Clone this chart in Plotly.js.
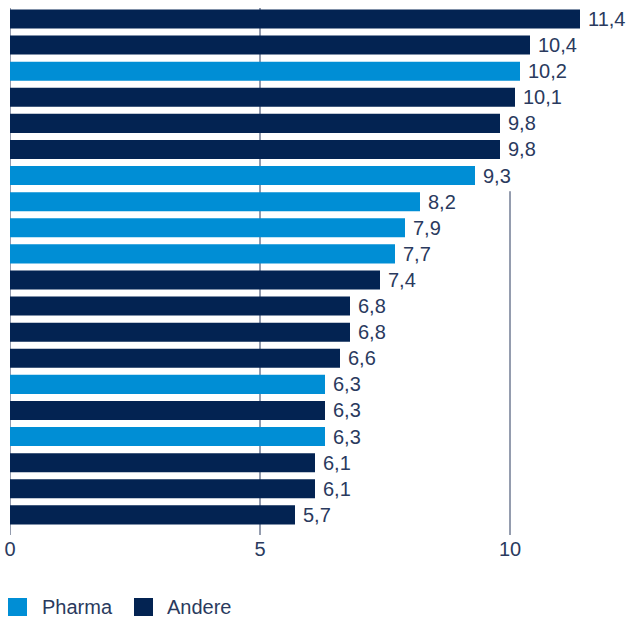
<!DOCTYPE html>
<html><head><meta charset="utf-8">
<script src="https://cdn.plot.ly/plotly-3.0.1.min.js"></script>
<style>html,body{margin:0;padding:0;background:#fff}</style>
</head><body><div id="chart" style="width:629px;height:621px"></div>
<script>
const values = [11.4, 10.4, 10.2, 10.1, 9.8, 9.8, 9.3, 8.2, 7.9, 7.7, 7.4, 6.8, 6.8, 6.6, 6.3, 6.3, 6.3, 6.1, 6.1, 5.7];
const groups = ['Andere','Andere','Pharma','Andere','Andere','Andere','Pharma','Pharma','Pharma','Pharma','Andere','Andere','Andere','Andere','Pharma','Andere','Pharma','Andere','Andere','Andere'];
const seriesNames = ['Pharma', 'Andere'];
const seriesColors = {Pharma: '#008ed5', Andere: '#032352'};
const xTicks = [0, 5, 10];

const W = 629, H = 621, M = {l: 10, r: 0, t: 8, b: 86};
const pw = W - M.l - M.r, ph = H - M.t - M.b;
const px = v => (v - M.l) / pw;
const py = v => (H - M.b - v) / ph;

const rows = values.map((v, i) => i);
const textColor = '#2a3a5e';
const font = 'Liberation Sans Narrow, Arial Narrow, sans-serif';
const fsize = 20;

const traces = seriesNames.map(name => {
  const idx = rows.filter(i => groups[i] === name);
  return {
    type: 'bar', orientation: 'h', name: name,
    x: idx.map(i => values[i]), y: idx,
    width: 0.73,
    marker: {color: seriesColors[name]},
    hoverinfo: 'skip', showlegend: false
  };
});

const annotations = rows.map(i => ({
  x: values[i], y: i, xref: 'x', yref: 'y',
  text: values[i].toFixed(1).replace('.', ','),
  showarrow: false, xanchor: 'left', yanchor: 'middle', xshift: 6, yshift: 0,
  font: {family: font, size: fsize, color: textColor}
}));

const shapes = xTicks.map(t => ({
  type: 'line', layer: 'below', xref: 'x', yref: 'y',
  x0: t, x1: t,
  y0: t === 10 ? 6.6 : -0.42, y1: values.length - 0.23,
  line: {color: '#2a3a5e', width: 1}
}));

// manual legend (larger square swatches)
const legendX = [8, 134];
const legendTextX = [40, 165];
seriesNames.forEach((name, k) => {
  shapes.push({type: 'rect', xref: 'paper', yref: 'paper',
    x0: px(legendX[k]), x1: px(legendX[k] + 19), y0: py(616), y1: py(598),
    fillcolor: seriesColors[name], line: {width: 0}});
  annotations.push({xref: 'paper', yref: 'paper', x: px(legendTextX[k]), y: py(607),
    text: name, showarrow: false, xanchor: 'left', yanchor: 'middle',
    font: {family: font, size: fsize, color: textColor}});
});

const layout = {
  width: W, height: H,
  margin: M,
  paper_bgcolor: '#fff', plot_bgcolor: '#fff',
  barmode: 'overlay',
  showlegend: false,
  xaxis: {range: [0, 12.38], tickvals: xTicks, ticktext: xTicks.map(String),
    showgrid: false, zeroline: false, showline: false, ticks: '',
    tickfont: {family: font, size: fsize, color: textColor}, fixedrange: true},
  yaxis: {range: [values.length - 0.23, -0.42], showticklabels: false,
    showgrid: false, zeroline: false, showline: false, ticks: '', fixedrange: true},
  shapes: shapes,
  annotations: annotations
};

Plotly.newPlot('chart', traces, layout, {displayModeBar: false, staticPlot: true});
</script></body></html>
